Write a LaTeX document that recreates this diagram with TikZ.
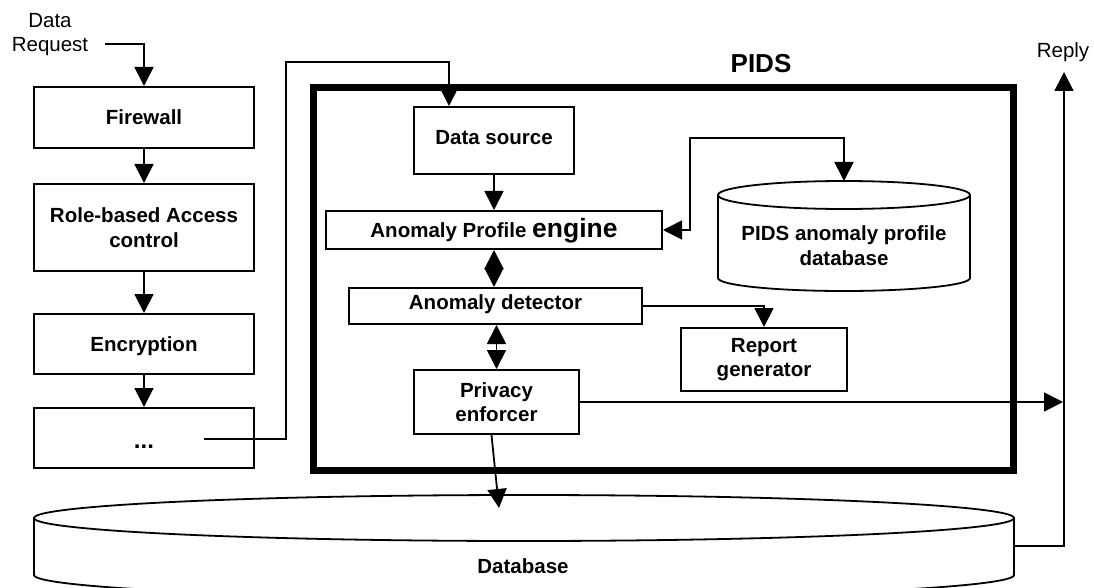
\documentclass[tikz,border=0pt]{standalone}
\usepackage{fontspec}
\setmainfont{Liberation Sans}
\usetikzlibrary{arrows.meta}
\tikzset{
  box/.style={draw, line width=2pt, fill=white, inner sep=0pt, align=center,
    font=\bfseries\fontsize{20.5}{24.5}\selectfont},
  one/.style={text height=15pt, text depth=0pt},
  lbl/.style={inner sep=0pt, align=center, font=\fontsize{20.5}{24.5}\selectfont},
  conn/.style={line width=1.8pt, -{Triangle[length=19pt,width=19pt]}},
  conn2/.style={line width=1.8pt, {Triangle[length=19pt,width=19pt]}-{Triangle[length=19pt,width=19pt]}},
  shp/.style={line width=1.8pt},
}
\begin{document}
\begin{tikzpicture}[x=1pt,y=-1pt]
\useasboundingbox (0,0) rectangle (1094,588);

% PIDS frame
\node[draw, line width=7pt, minimum width=700pt, minimum height=383pt, inner sep=0pt] (pids) at (663.5,279) {};
\node[inner sep=0pt, font=\bfseries\fontsize{26}{30}\selectfont] (pidslbl) at (761,63.5) {PIDS};

% Left chain
\node[lbl] (req) at (50,34.5) {Data\\Request};
\node[box, one, minimum width=220pt, minimum height=61pt] (fw) at (144,117.5) {Firewall};
\node[box, minimum width=220pt, minimum height=87pt] (rbac) at (144,227.5) {Role-based Access\\control};
\node[box, one, minimum width=220pt, minimum height=60pt] (enc) at (144,344) {Encryption};
\node[box, text height=21pt, text depth=0pt, minimum width=220pt, minimum height=60pt] (dots) at (144,438) {\fontsize{24}{28}\selectfont ...};

% Inside PIDS
\node[box, text height=15pt, text depth=7pt, minimum width=160pt, minimum height=67pt] (ds) at (494,140.5) {Data source};
\node[box, one, minimum width=336pt, minimum height=38pt] (eng) at (494,230) {Anomaly Profile {\fontsize{26.5}{30}\selectfont engine}};
\node[box, text height=15pt, text depth=8pt, minimum width=293pt, minimum height=36pt] (det) at (495.5,306) {Anomaly detector};
\node[box, minimum width=165pt, minimum height=64pt] (priv) at (496.5,402) {Privacy\\enforcer};
\node[box, minimum width=166pt, minimum height=63pt] (rep) at (764,359.5) {Report\\generator};

% PIDS anomaly profile database (cylinder)
\fill[white] (718,195) -- (718,278) arc[start angle=180, end angle=0, x radius=126, y radius=13] -- (970,195) -- cycle;
\draw[shp] (718,195) -- (718,278) arc[start angle=180, end angle=0, x radius=126, y radius=13] -- (970,195);
\draw[shp, fill=white] (844,195) ellipse[x radius=126, y radius=14];
\node[box, draw=none, fill=none] (pdb) at (844,245.5) {PIDS anomaly profile\\database};
\coordinate (pdbtop) at (844,181);

% Database (big cylinder)
\fill[white] (34,518) -- (34,575) arc[start angle=180, end angle=0, x radius=490, y radius=23] -- (1014,518) -- cycle;
\draw[shp] (34,518) -- (34,575) arc[start angle=180, end angle=0, x radius=490, y radius=23] -- (1014,518);
\draw[shp, fill=white] (524,518) ellipse[x radius=490, y radius=23];
\node[box, draw=none, fill=none] (db) at (523,566) {Database};
\coordinate (dbin) at (499,508);
\coordinate (dbright) at (1014,546);

% Reply
\node[lbl] (reply) at (1063,52) {Reply};
\coordinate (replytip) at (1064,72);
\coordinate (replyin) at (1063,402);

% Connectors
\coordinate (reqstart) at (105,44);
\draw[conn] (reqstart) -| (fw.north);
\draw[conn] (fw) -- (rbac);
\draw[conn] (rbac) -- (enc);
\draw[conn] (enc) -- (dots);

\coordinate (dotsout) at (204,439);
\coordinate (bendA) at (286,62);
\draw[conn] (dotsout) -| (bendA) -| ([xshift=-45pt]ds.north);

\draw[conn] (ds) -- (eng);
\draw[conn2] (eng.south) -- (eng.south |- det.north);
\draw[conn2] (det.south -| priv.north) -- (priv.north);
\draw[conn] (det.east) -| (rep.north);

\coordinate (bendB) at (690,138);
\draw[conn2] (eng.east) -| (bendB) -| (pdbtop);

\draw[conn] (priv.east) -- (replyin);
\draw[conn] ([xshift=-5pt]priv.south) -- (dbin);
\draw[conn] (dbright) -| (replytip);
\end{tikzpicture}
\end{document}
